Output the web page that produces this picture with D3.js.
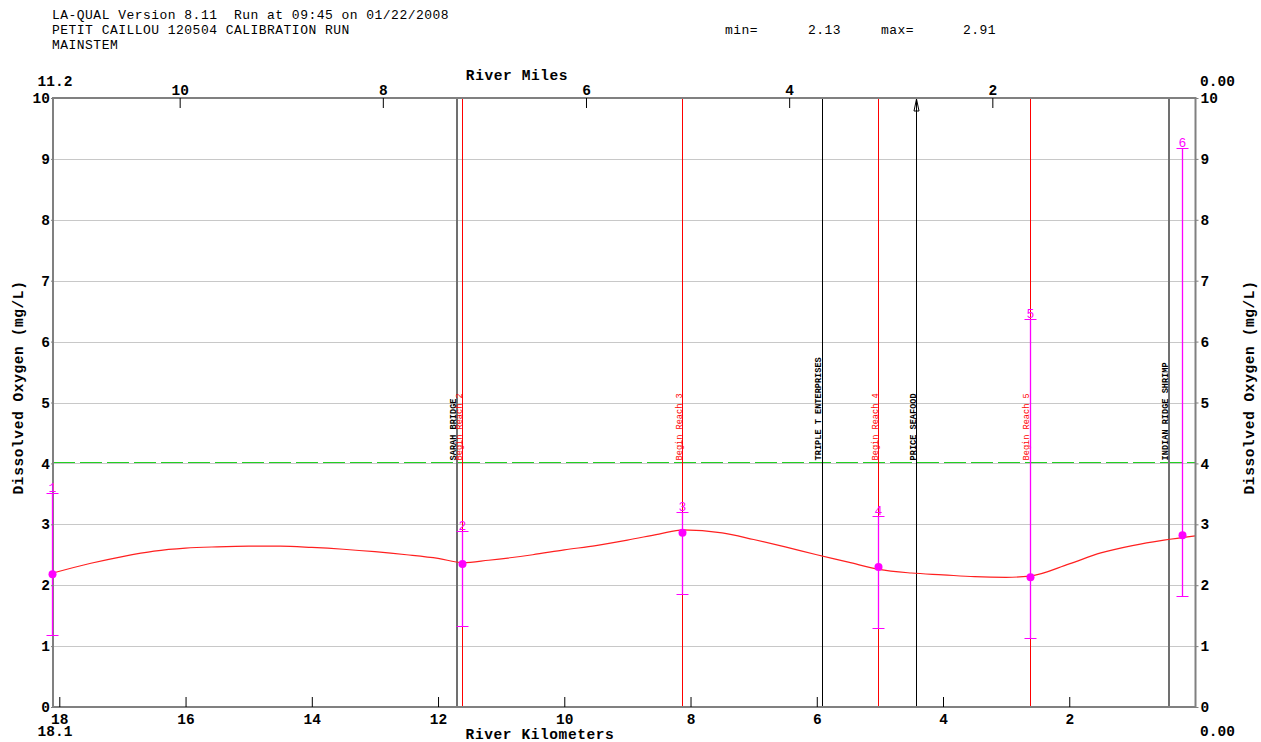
<!DOCTYPE html>
<html><head><meta charset="utf-8">
<script src="https://cdn.jsdelivr.net/npm/d3@7"></script>
<style>
html,body{margin:0;padding:0;background:#fff;}
svg{display:block;}
text{font-family:"Liberation Mono","DejaVu Sans Mono",monospace;white-space:pre;}
</style></head>
<body>
<svg id="chart" width="1261" height="742"></svg>
<script>
// ---------- data ----------
const headerLines = ["LA-QUAL Version 8.11  Run at 09:45 on 01/22/2008","PETIT CAILLOU 120504 CALIBRATION RUN","MAINSTEM"];
const statLabels = ["min=","2.13","max=","2.91"];
const kmTicks = [18,16,14,12,10,8,6,4,2];
const mileTicks = [10,8,6,4,2];
const doTicks = [0,1,2,3,4,5,6,7,8,9,10];
const standardDO = 4;

// model (simulated) dissolved oxygen along river km
const modelKm = [18.1,17.5,17.0,16.5,16.0,15.5,15.0,14.5,14.0,13.5,13.0,12.5,12.0,11.61,11.2,10.5,10.0,9.5,9.0,8.5,8.12,7.5,7.0,6.5,6.0,5.5,5.02,4.5,4.0,3.5,3.0,2.62,2.0,1.5,1.0,0.5,0.0];
const modelDO = [2.20,2.36,2.47,2.56,2.61,2.63,2.64,2.64,2.62,2.59,2.55,2.50,2.44,2.37,2.41,2.50,2.58,2.65,2.74,2.84,2.91,2.86,2.75,2.63,2.50,2.38,2.26,2.20,2.17,2.14,2.13,2.15,2.35,2.53,2.65,2.74,2.81];

// observed data: station km, mean, min, max
const obsLabel = ["1","2","3","4","5","6"];
const obsKm   = [18.1,11.61,8.12,5.02,2.62,0.21];
const obsMean = [2.18,2.35,2.86,2.30,2.13,2.82];
const obsMin  = [1.18,1.33,1.86,1.30,1.13,1.82];
const obsMax  = [3.51,2.89,3.20,3.14,6.37,9.18];

// landmarks
const markKm   = [11.70,11.61,8.12,5.92,5.02,4.42,2.62,0.42];
const markName = ["SARAH BRIDGE","Begin Reach 2","Begin Reach 3","TRIPLE T ENTERPRISES","Begin Reach 4","PRICE SEAFOOD","Begin Reach 5","INDIAN RIDGE SHRIMP"];
const markType = ["bridge","reach","reach","discharge","reach","intake","reach","bridge"];

// ---------- layout ----------
const L = 53, R = 1195.5, T = 98, B = 707;
const kmMax = 18.1, mileMax = 18.1/1.609344;
const svg = d3.select("#chart");
svg.append("rect").attr("width",1261).attr("height",742).attr("fill","#fff");

const x = d3.scaleLinear().domain([kmMax,0]).range([L,R]);
const xm = d3.scaleLinear().domain([mileMax,0]).range([L,R]);
const y = d3.scaleLinear().domain([0,10]).range([B,T]);
const snap = v => 2*Math.round((v-0.5)/2) + 0.5;   // 1px crisp line position

// header
svg.selectAll("text.hdr").data(headerLines).join("text")
  .attr("class","hdr").attr("x",52).attr("y",(d,i)=>19+i*15)
  .attr("font-size","13px").attr("letter-spacing","0.47px").attr("fill","#000").text(d=>d);
const statX = [725,808,881,963];
svg.selectAll("text.stat").data(statLabels).join("text")
  .attr("class","stat").attr("x",(d,i)=>statX[i]).attr("y",34)
  .attr("font-size","13px").attr("letter-spacing","0.47px").text(d=>d);

// gridlines
svg.append("g").selectAll("line").data(doTicks.filter(d=>d>0&&d<10)).join("line")
  .attr("x1",L).attr("x2",R).attr("y1",d=>Math.round(y(d))+0.5).attr("y2",d=>Math.round(y(d))+0.5)
  .attr("stroke","#c8c8c8").attr("stroke-width",1);

// standard line
svg.append("line").attr("x1",L).attr("x2",R).attr("y1",snap(y(standardDO))).attr("y2",snap(y(standardDO)))
  .attr("stroke","#22d022").attr("stroke-width",1).attr("stroke-dasharray","22,5");

// landmark lines
const markColor = {bridge:"#707070",reach:"#ff0000",discharge:"#000000",intake:"#000000"};
const markWidth = {bridge:2,reach:1,discharge:1,intake:1};
const mg = svg.append("g");
mg.selectAll("line").data(markKm).join("line")
  .attr("x1",(d,i)=>markWidth[markType[i]]===1?snap(x(d)):Math.round(x(d)))
  .attr("x2",(d,i)=>markWidth[markType[i]]===1?snap(x(d)):Math.round(x(d)))
  .attr("y1",T).attr("y2",B)
  .style("stroke",(d,i)=>markColor[markType[i]]).attr("stroke-width",(d,i)=>markWidth[markType[i]]);
mg.selectAll("text").data(markKm).join("text")
  .attr("transform",(d,i)=>`translate(${Math.round(x(d))-1},${y(standardDO)-3}) rotate(-90)`)
  .attr("font-size","8.6px")
  .attr("font-weight",(d,i)=>markType[i]==="reach"?"normal":"bold")
  .attr("fill",(d,i)=>markType[i]==="reach"?"#ff0000":"#000")
  .text((d,i)=>markName[i]);
// intake arrow
markKm.forEach((k,i)=>{
  if(markType[i]==="intake"){
    const ax = snap(x(k));
    svg.append("path").attr("d",`M${ax},${T+1} L${ax-2.5},${T+13} L${ax+2.5},${T+13} Z`)
      .attr("fill","none").attr("stroke","#000").attr("stroke-width",1);
  }
});

// model line
svg.append("path").datum(modelKm.map((k,i)=>[k,modelDO[i]]))
  .attr("d",d3.line().x(d=>x(d[0])).y(d=>y(d[1])).curve(d3.curveMonotoneX))
  .attr("fill","none").attr("stroke","#ff2020").attr("stroke-width",1.2);

// frame
const frameColor = "#808080";
svg.append("rect").attr("x",L).attr("y",T).attr("width",R-L).attr("height",B-T)
  .attr("fill","none").attr("stroke",frameColor).attr("stroke-width",2);

// observations (drawn over the frame)
const og = svg.append("g");
obsKm.forEach((k,i)=>{
  const cx = snap(x(k));
  og.append("line").attr("x1",cx).attr("x2",cx).attr("y1",y(obsMin[i])).attr("y2",y(obsMax[i]))
    .attr("stroke","#ff00ff").attr("stroke-width",1.3);
  [obsMin[i],obsMax[i]].forEach(v=>{
    og.append("line").attr("x1",cx-6).attr("x2",cx+6).attr("y1",Math.round(y(v))+0.5).attr("y2",Math.round(y(v))+0.5)
      .attr("stroke","#ff00ff").attr("stroke-width",1);
  });
  og.append("circle").attr("cx",cx).attr("cy",y(obsMean[i])).attr("r",4).attr("fill","#ff00ff");
  og.append("text").attr("x",cx).attr("y",y(obsMax[i])-1).attr("text-anchor","middle")
    .attr("font-size","13px").attr("fill","#ff00ff").text(obsLabel[i]);
});

const tickFont = g=>g.selectAll("text").attr("font-size","14.5px").attr("font-weight","bold")
  .attr("font-family","Liberation Mono").attr("fill","#000");

// bottom axis (km)
const bottomAxis = d3.axisBottom(x).tickValues(kmTicks).tickSize(-10).tickPadding(7).tickFormat(d3.format("d"));
const gb = svg.append("g").attr("transform",`translate(0,${B})`).call(bottomAxis);
gb.select(".domain").remove();
gb.selectAll("line").attr("stroke","#000");
tickFont(gb);

// top axis (miles)
const topAxis = d3.axisTop(xm).tickValues(mileTicks).tickSize(-10).tickPadding(3).tickFormat(d3.format("d"));
const gt = svg.append("g").attr("transform",`translate(0,${T})`).call(topAxis);
gt.select(".domain").remove();
gt.selectAll("line").attr("stroke","#000");
tickFont(gt);

// left / right axes
const leftAxis = d3.axisLeft(y).tickValues(doTicks).tickSize(2).tickPadding(1).tickFormat(d3.format("d"));
const gl = svg.append("g").attr("transform",`translate(${L},0)`).call(leftAxis);
gl.select(".domain").remove();
gl.selectAll("line").attr("stroke",frameColor);
tickFont(gl);
const rightAxis = d3.axisRight(y).tickValues(doTicks).tickSize(3).tickPadding(2).tickFormat(d3.format("d"));
const gr = svg.append("g").attr("transform",`translate(${R},0)`).call(rightAxis);
gr.select(".domain").remove();
gr.selectAll("line").attr("stroke",frameColor);
tickFont(gr);

// end labels
const bold = s=>s.attr("font-size","14.5px").attr("font-weight","bold").attr("fill","#000");
bold(svg.append("text").attr("x",L+2).attr("y",86).attr("text-anchor","middle").text(d3.format(".1f")(mileMax-0.05)));
bold(svg.append("text").attr("x",R+22).attr("y",86).attr("text-anchor","middle").text("0.00"));
bold(svg.append("text").attr("x",L+2).attr("y",736).attr("text-anchor","middle").text(d3.format(".1f")(kmMax)));
bold(svg.append("text").attr("x",R+22).attr("y",736).attr("text-anchor","middle").text("0.00"));

// axis titles
const title = s=>s.attr("font-size","14.5px").attr("font-weight","bold").attr("letter-spacing","0.6px").attr("fill","#000").attr("text-anchor","middle");
title(svg.append("text").attr("x",517).attr("y",80).text("River Miles"));
title(svg.append("text").attr("x",540).attr("y",739).text("River Kilometers"));
title(svg.append("text").attr("transform",`translate(23,${(T+B)/2-15}) rotate(-90)`).text("Dissolved Oxygen (mg/L)"));
title(svg.append("text").attr("transform",`translate(1254,${(T+B)/2-15}) rotate(-90)`).text("Dissolved Oxygen (mg/L)"));
</script>
</body></html>
